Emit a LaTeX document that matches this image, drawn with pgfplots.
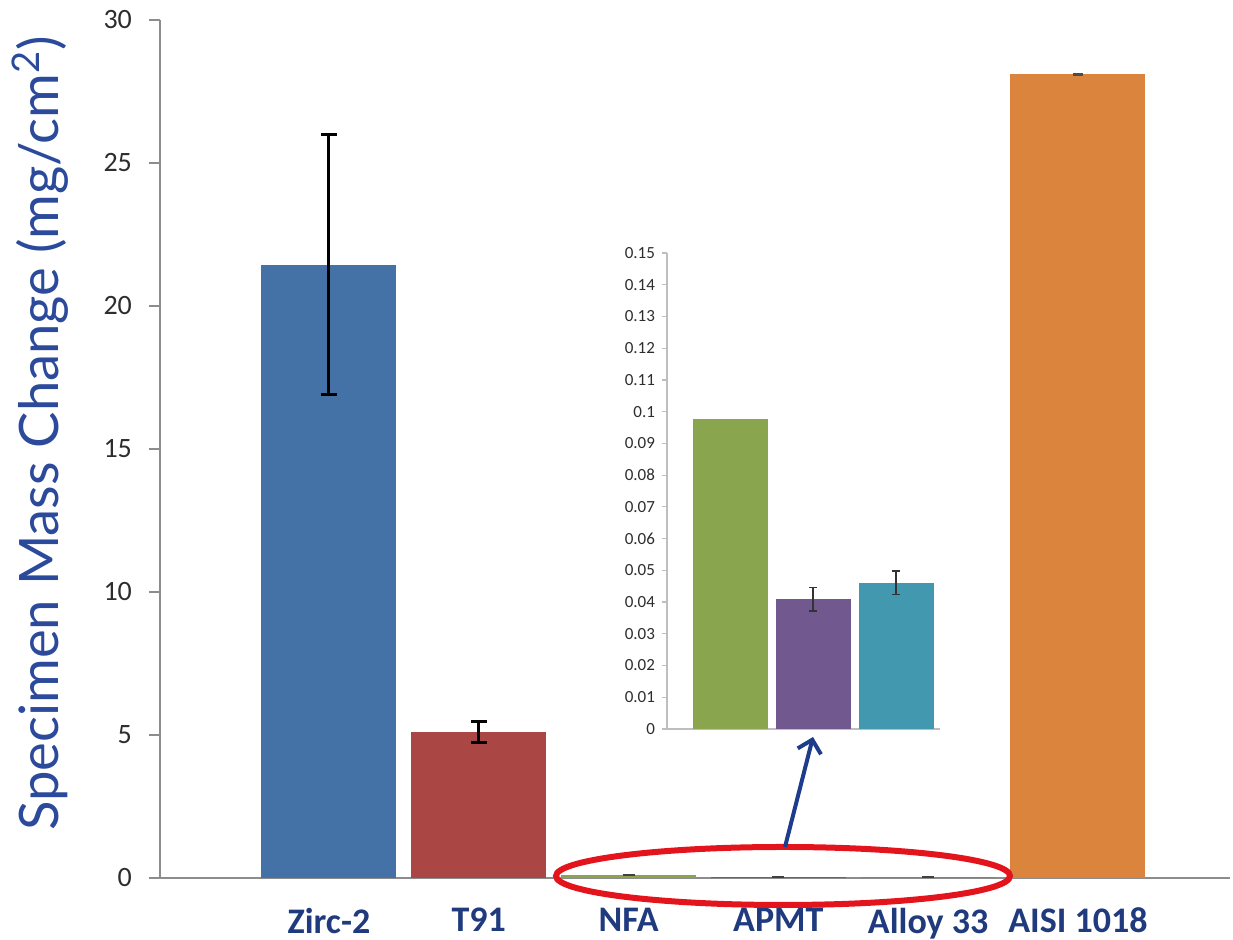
\documentclass[border=0pt]{standalone}
\usepackage{fontspec}
\setmainfont{Carlito}
\newfontfamily\labelfont{Lato}
\usepackage{pgfplots}
\pgfplotsset{compat=1.18}
\usetikzlibrary{arrows.meta}
\definecolor{cZirc}{RGB}{69,114,166}
\definecolor{cT91}{RGB}{170,70,67}
\definecolor{cNFA}{RGB}{137,165,78}
\definecolor{cAPMT}{RGB}{113,88,143}
\definecolor{cAlloy}{RGB}{65,152,175}
\definecolor{cAISI}{RGB}{219,132,61}
\definecolor{labblue}{RGB}{44,74,155}
\definecolor{xlab}{RGB}{31,58,125}
\definecolor{axgray}{RGB}{140,140,140}
\definecolor{inaxgray}{RGB}{190,190,190}
\definecolor{tickgray}{RGB}{45,45,45}
\definecolor{arrowblue}{RGB}{30,60,140}
\definecolor{ellred}{RGB}{228,20,28}
\begin{document}
\begin{tikzpicture}
\useasboundingbox (0,0) rectangle (616.5pt,470pt);
% ---------------- main axis ----------------
\begin{axis}[
  at={(80pt,31pt)}, anchor=south west,
  scale only axis, width=535pt, height=429pt,
  xmin=-1.128, xmax=6.015, ymin=0, ymax=30,
  ybar,
  axis lines=left,
  axis line style={-, draw=axgray, line width=0.8pt},
  tick align=outside, major tick length=5.5pt,
  x tick style={draw=none},
  y tick style={draw=axgray, line width=0.8pt},
  ytick={0,5,10,15,20,25,30},
  yticklabels={0,5,10,15,20,25,30},
  xtick={0,1,2,3,4,5},
  xticklabels={Zirc-2,T91,NFA,APMT,Alloy 33,AISI 1018},
  /pgf/number format/assume math mode=true,
  yticklabel style={font=\fontsize{14}{14}\selectfont, text=tickgray, xshift=-5pt},
  xticklabel style={font=\bfseries\fontsize{18}{18}\selectfont, text=xlab, yshift=-6pt},
  ylabel={Specimen Mass Change (mg/cm\textsuperscript{2})},
  ylabel style={font=\labelfont\fontsize{27.2}{27.2}\selectfont, text=labblue,
    at={(axis description cs:-0.112,0.518)}, anchor=center},
  clip=false,
]
\addplot[fill=cZirc, draw=none, bar width=67.5pt, bar shift=0pt,
  error bars/.cd, y dir=both, y explicit,
  error bar style={line width=1.5pt, black},
  error mark options={rotate=90, mark size=4pt, line width=1.5pt, black}]
  coordinates {(0,21.45) +- (0,4.55)};
\addplot[fill=cT91, draw=none, bar width=67.5pt, bar shift=0pt,
  error bars/.cd, y dir=both, y explicit,
  error bar style={line width=1.5pt, black},
  error mark options={rotate=90, mark size=4pt, line width=1.5pt, black}]
  coordinates {(1,5.1) +- (0,0.37)};
\addplot[fill=cNFA, draw=none, bar width=67.5pt, bar shift=0pt,
  error bars/.cd, y dir=both, y explicit,
  error bar style={line width=1pt, black!75},
  error mark options={rotate=90, mark size=3pt, line width=1pt, black!75}]
  coordinates {(2,0.098) +- (0,0.0005)};
\addplot[fill=cAPMT, draw=none, bar width=67.5pt, bar shift=0pt,
  error bars/.cd, y dir=both, y explicit,
  error bar style={line width=1pt, black!75},
  error mark options={rotate=90, mark size=3pt, line width=1pt, black!75}]
  coordinates {(3,0.041) +- (0,0.0037)};
\addplot[fill=cAlloy, draw=none, bar width=67.5pt, bar shift=0pt,
  error bars/.cd, y dir=both, y explicit,
  error bar style={line width=1pt, black!75},
  error mark options={rotate=90, mark size=3pt, line width=1pt, black!75}]
  coordinates {(4,0.046) +- (0,0.0037)};
\addplot[fill=cAISI, draw=none, bar width=67.5pt, bar shift=0pt,
  error bars/.cd, y dir=both, y explicit,
  error bar style={line width=1pt, black!70},
  error mark options={rotate=90, mark size=2.5pt, line width=1.2pt, black!70}]
  coordinates {(5,28.1) +- (0,0.02)};
\end{axis}
% ---------------- inset axis ----------------
\begin{axis}[
  at={(333.5pt,105.5pt)}, anchor=south west,
  scale only axis, width=136.5pt, height=238pt,
  xmin=-0.76, xmax=2.53, ymin=0, ymax=0.15,
  ybar,
  axis lines=left,
  axis line style={-, draw=inaxgray, line width=0.6pt},
  tick align=outside, major tick length=2.5pt,
  x tick style={draw=none},
  y tick style={draw=inaxgray, line width=0.6pt},
  xtick=\empty,
  ytick={0,0.01,0.02,0.03,0.04,0.05,0.06,0.07,0.08,0.09,0.1,0.11,0.12,0.13,0.14,0.15},
  yticklabels={0,0.01,0.02,0.03,0.04,0.05,0.06,0.07,0.08,0.09,0.1,0.11,0.12,0.13,0.14,0.15},
  /pgf/number format/assume math mode=true,
  yticklabel style={font=\fontsize{8.5}{8.5}\selectfont, text=tickgray},
]
\addplot[fill=cNFA, draw=none, bar width=37.5pt, bar shift=0pt]
  coordinates {(0,0.0976)};
\addplot[fill=cAPMT, draw=none, bar width=37.5pt, bar shift=0pt,
  error bars/.cd, y dir=both, y explicit,
  error bar style={line width=0.6pt, black!80},
  error mark options={rotate=90, mark size=1.8pt, line width=0.6pt, black!80}]
  coordinates {(1,0.0409) +- (0,0.0037)};
\addplot[fill=cAlloy, draw=none, bar width=37.5pt, bar shift=0pt,
  error bars/.cd, y dir=both, y explicit,
  error bar style={line width=0.6pt, black!80},
  error mark options={rotate=90, mark size=1.8pt, line width=0.6pt, black!80}]
  coordinates {(2,0.0461) +- (0,0.0037)};
\end{axis}
% ---------------- annotations ----------------
\draw[ellred, line width=3pt] (391.5pt,32pt) ellipse [x radius=113.5pt, y radius=14.5pt];
\draw[arrowblue, line width=2pt, -{Straight Barb[length=6pt,width=12pt]}] (392.5pt,46.5pt) -- (406.5pt,101.5pt);
\end{tikzpicture}
\end{document}
